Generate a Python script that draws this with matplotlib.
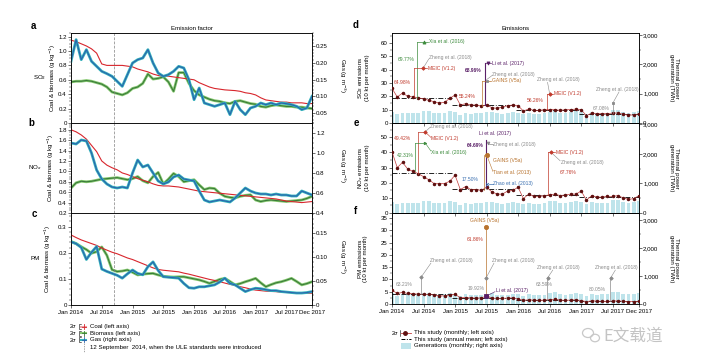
import numpy as np
import matplotlib
matplotlib.use('Agg')
import matplotlib.pyplot as plt
from matplotlib.lines import Line2D
from matplotlib.patches import Rectangle, Ellipse
from matplotlib.ticker import MultipleLocator, FixedLocator, FuncFormatter

plt.rcParams['font.family'] = ['Liberation Sans', 'DejaVu Sans']
plt.rcParams['axes.linewidth'] = 0.5

# ---- data ----
months = np.arange(48)  # Jan 2014 .. Dec 2017
tick_pos = [0, 6, 12, 18, 24, 30, 36, 42, 47]
tick_lab = ['Jan 2014', 'Jul 2014', 'Jan 2015', 'Jul 2015', 'Jan 2016',
            'Jul 2016', 'Jan 2017', 'Jul 2017', 'Dec 2017']
ule_month = 8.4  # 12 September 2014

# emission factors (a: SO2, b: NOx, c: PM)
coal_so2 = [1.15, 1.13, 1.10, 1.07, 1.03, 0.97, 0.82, 0.80, 0.80, 0.80, 0.80, 0.79,
            0.78, 0.75, 0.73, 0.71, 0.68, 0.66, 0.65, 0.65, 0.64, 0.63, 0.62, 0.61,
            0.60, 0.56, 0.53, 0.50, 0.48, 0.47, 0.46, 0.455, 0.45, 0.44, 0.42, 0.41,
            0.39, 0.35, 0.32, 0.31, 0.30, 0.29, 0.29, 0.28, 0.28, 0.28, 0.27, 0.27]
bio_so2 = [0.57, 0.58, 0.58, 0.59, 0.58, 0.56, 0.54, 0.50, 0.43, 0.41, 0.39, 0.42,
           0.48, 0.50, 0.55, 0.68, 0.61, 0.62, 0.64, 0.57, 0.44, 0.70, 0.70, 0.55,
           0.45, 0.39, 0.36, 0.33, 0.31, 0.30, 0.28, 0.27, 0.30, 0.31, 0.29, 0.27,
           0.26, 0.23, 0.22, 0.24, 0.25, 0.24, 0.23, 0.23, 0.22, 0.22, 0.21, 0.20]
gas_so2 = [0.205, 0.27, 0.21, 0.24, 0.205, 0.19, 0.175, 0.168, 0.16, 0.145, 0.13, 0.165,
           0.20, 0.21, 0.215, 0.24, 0.20, 0.17, 0.16, 0.165, 0.175, 0.19, 0.185, 0.15,
           0.09, 0.125, 0.08, 0.075, 0.07, 0.075, 0.08, 0.045, 0.085, 0.06, 0.045, 0.065,
           0.07, 0.08, 0.075, 0.08, 0.075, 0.08, 0.078, 0.075, 0.07, 0.06, 0.065, 0.10]

coal_nox = [1.80, 1.76, 1.70, 1.62, 1.50, 1.38, 1.20, 1.12, 1.07, 1.03, 0.97, 0.94,
            0.90, 0.86, 0.83, 0.80, 0.76, 0.73, 0.72, 0.72, 0.71, 0.70, 0.68, 0.66,
            0.64, 0.62, 0.61, 0.60, 0.59, 0.58, 0.57, 0.56, 0.55, 0.54, 0.53, 0.52,
            0.51, 0.50, 0.49, 0.48, 0.47, 0.45, 0.43, 0.42, 0.41, 0.40, 0.41, 0.42]
bio_nox = [0.68, 0.78, 0.81, 0.80, 0.81, 0.83, 0.85, 0.86, 0.87, 0.88, 0.86, 0.84,
           0.86, 0.90, 0.82, 0.78, 0.90, 0.98, 0.76, 0.85, 0.96, 0.90, 0.80, 0.82,
           0.84, 0.74, 0.65, 0.68, 0.67, 0.58, 0.52, 0.50, 0.49, 0.52, 0.54, 0.55,
           0.45, 0.42, 0.44, 0.45, 0.44, 0.43, 0.42, 0.43, 0.44, 0.45, 0.48, 0.52]
gas_nox = [1.10, 1.09, 1.13, 1.12, 1.00, 0.83, 0.74, 0.69, 0.66, 0.65, 0.66, 0.65,
           0.80, 0.93, 0.86, 0.88, 0.80, 0.72, 0.69, 0.71, 0.76, 0.78, 0.74, 0.73,
           0.72, 0.62, 0.53, 0.51, 0.52, 0.53, 0.52, 0.51, 0.55, 0.60, 0.65, 0.62,
           0.60, 0.59, 0.59, 0.58, 0.59, 0.58, 0.58, 0.57, 0.57, 0.62, 0.60, 0.58]

coal_pm = [0.268, 0.258, 0.249, 0.242, 0.235, 0.228, 0.218, 0.210, 0.202, 0.196, 0.188, 0.180,
           0.174, 0.166, 0.158, 0.150, 0.142, 0.136, 0.133, 0.131, 0.129, 0.127, 0.122, 0.118,
           0.113, 0.108, 0.103, 0.098, 0.094, 0.089, 0.084, 0.079, 0.075, 0.070, 0.066, 0.061,
           0.057, 0.055, 0.053, 0.052, 0.051, 0.049, 0.048, 0.047, 0.046, 0.045, 0.045, 0.045]
bio_pm = [0.243, 0.235, 0.223, 0.212, 0.198, 0.204, 0.222, 0.190, 0.135, 0.128, 0.130, 0.134,
          0.125, 0.115, 0.118, 0.120, 0.121, 0.115, 0.110, 0.108, 0.107, 0.108, 0.108, 0.104,
          0.100, 0.096, 0.090, 0.083, 0.090, 0.098, 0.102, 0.090, 0.077, 0.082, 0.089, 0.095,
          0.102, 0.085, 0.070, 0.078, 0.085, 0.089, 0.095, 0.102, 0.090, 0.077, 0.082, 0.089]
gas_pm = [0.132, 0.128, 0.120, 0.095, 0.110, 0.122, 0.075, 0.070, 0.066, 0.062, 0.056, 0.065,
          0.073, 0.066, 0.063, 0.080, 0.090, 0.072, 0.059, 0.058, 0.057, 0.056, 0.045, 0.036,
          0.035, 0.038, 0.038, 0.040, 0.042, 0.048, 0.056, 0.045, 0.042, 0.035, 0.028, 0.032,
          0.035, 0.034, 0.032, 0.030, 0.030, 0.028, 0.027, 0.026, 0.025, 0.025, 0.026, 0.028]

# emissions, 10 kt per month (d: SO2, e: NOx, f: PM)
so2 = [26, 19.5, 22.5, 20, 19.5, 19, 18, 17, 16, 15, 15.5, 18.5,
       21, 13.5, 14.5, 13.5, 13.5, 13, 13.5, 11.5, 11, 12, 13, 13.5,
       13, 9, 10.5, 9.5, 9.5, 10, 10, 10, 9.5, 10, 10, 10.5,
       10, 5.5, 7.5, 7, 7, 7, 7.5, 7.5, 6.5, 6, 6, 7]
nox = [40.5, 30, 33.5, 29, 27.5, 26, 24, 22, 19.5, 19.5, 19.5, 21,
       25, 15.5, 17.5, 15.5, 15.5, 15, 17, 14, 12.5, 12.5, 14.5, 15,
       17, 9.5, 12.5, 11, 11, 11.5, 12, 12.5, 11.5, 12, 12.5, 12.5,
       14.5, 8.5, 11.5, 10.5, 10.5, 11, 11, 11.5, 10, 9, 9.5, 11.5]
pm = [5.6, 4.3, 4.7, 4.3, 4.2, 4.0, 4.0, 3.9, 3.7, 3.3, 3.3, 3.7,
      3.9, 2.6, 2.6, 2.5, 2.4, 2.5, 3.2, 2.4, 2.3, 2.3, 2.4, 2.5,
      2.1, 1.5, 1.7, 1.6, 1.5, 1.6, 1.8, 1.9, 1.6, 1.5, 1.6, 1.7,
      1.4, 1.0, 1.3, 1.2, 1.1, 1.1, 1.2, 1.3, 1.1, 1.0, 1.0, 1.1]
so2_annual = [18.9, 13.6, 10.1, 7.0]
nox_annual = [26.5, 15.8, 12.2, 10.8]
pm_annual = [4.0, 2.6, 1.65, 1.15]

# thermal power generation, TWh per month
generation = [385, 290, 340, 325, 335, 340, 400, 395, 350, 335, 345, 395,
              365, 285, 345, 320, 325, 330, 365, 380, 335, 310, 330, 370,
              355, 290, 345, 315, 320, 330, 390, 415, 355, 335, 360, 400,
              370, 300, 360, 330, 340, 355, 430, 440, 370, 350, 370, 410]

# ---- figure ----
W, H = 701, 362
fig = plt.figure(figsize=(W / 100, H / 100), dpi=100)

FS = 4.4     # tick / label text
AFS = 3.6    # annotation text


def box(x0, y0, x1, y1):
    return [x0 / W, 1 - y1 / H, (x1 - x0) / W, (y1 - y0) / H]


def ftext(x, y, s, **kw):
    fig.text(x / W, 1 - y / H, s, **kw)


def fline(xs, ys, **kw):
    fig.add_artist(Line2D([x / W for x in xs], [1 - y / H for y in ys],
                          transform=fig.transFigure, **kw))


def style(ax, bottom_labels):
    ax.set_xlim(0, 47)
    ax.xaxis.set_major_locator(FixedLocator(tick_pos))
    ax.set_xticklabels(tick_lab)
    ax.tick_params(axis='x', labelbottom=bottom_labels, labelsize=FS, length=2,
                   width=0.4, pad=1.5)
    ax.tick_params(axis='y', which='major', labelsize=FS, length=2, width=0.4, pad=1)
    ax.tick_params(axis='y', which='minor', length=1.1, width=0.3)


def dec(n):
    return FuncFormatter(lambda v, p: '0' if abs(v) < 1e-9 else f'{v:.{n}f}')


def ef_panel(b, coal, bio, gas, ylim, ymaj, ymin, y2lim, y2maj, y2min, n1, n2,
             species, sp_x, lab_x, bottom=False):
    ax = fig.add_axes(box(*b))
    ax2 = ax.twinx()
    ax.plot(months, bio, color='#86c96f', lw=2.0, zorder=2)
    ax.plot(months, bio, color='#3a7b3a', lw=0.8, zorder=2)
    ax.plot(months, coal, color='#d8262d', lw=0.8, zorder=3)
    ax2.plot(months, gas, color='#33b3bb', lw=2.0)
    ax2.plot(months, gas, color='#2b62ae', lw=0.8)
    ax.axvline(ule_month, color='#808080', lw=0.5, ls=(0, (4, 2)))
    ax.set_ylim(ylim)
    ax2.set_ylim(y2lim)
    ax.yaxis.set_major_locator(MultipleLocator(ymaj))
    ax.yaxis.set_minor_locator(MultipleLocator(ymin))
    ax.yaxis.set_major_formatter(dec(n1))
    ax2.yaxis.set_major_locator(MultipleLocator(y2maj))
    ax2.yaxis.set_minor_locator(MultipleLocator(y2min))
    ax2.yaxis.set_major_formatter(dec(n2))
    style(ax, bottom)
    style(ax2, bottom)
    yc = (b[1] + b[3]) / 2
    ftext(lab_x, yc, 'Coal & biomass (g kg$^{-1}$)', fontsize=FS, rotation=90,
          ha='center', va='center')
    ftext(342, yc - 2, 'Gas (g m$^{-3}$)', fontsize=FS, rotation=270,
          ha='center', va='center')
    ftext(sp_x, yc, species, fontsize=FS, ha='center', va='center')
    return ax


def em_panel(b, monthly, annual, ylim, ymaj, ymin, y2lim, label, bottom=False):
    ax = fig.add_axes(box(*b))
    ax2 = ax.twinx()
    ax2.bar(months, generation, width=0.72, color='#bfe4eb', lw=0)
    ax.set_zorder(ax2.get_zorder() + 1)
    ax.patch.set_visible(False)
    ax.plot(months, monthly, color='#c23b3b', lw=0.5, marker='o', ms=1.5,
            mfc='#5e1010', mec='#5e1010', zorder=4)
    for k, v in enumerate(annual):
        ax.plot([max(12 * k - 0.5, 0), min(12 * k + 11.5, 47)], [v, v],
                color='black', lw=0.6, ls=(0, (6, 2, 1, 2)), zorder=3)
    ax.set_ylim(ylim)
    ax2.set_ylim(y2lim)
    ax.yaxis.set_major_locator(MultipleLocator(ymaj))
    ax.yaxis.set_minor_locator(MultipleLocator(ymin))
    ax2.yaxis.set_major_locator(MultipleLocator(1000))
    ax2.yaxis.set_minor_locator(MultipleLocator(500))
    ax2.yaxis.set_major_formatter(FuncFormatter(lambda v, p: f'{int(v):,}'))
    style(ax, bottom)
    style(ax2, bottom)
    yc = (b[1] + b[3]) / 2
    ftext(363, yc, label, fontsize=FS, rotation=90, ha='center', va='center',
          linespacing=1.0, multialignment='center')
    ftext(674, yc, 'Thermal power\ngeneration (TWh)', fontsize=FS, rotation=270,
          ha='center', va='center', linespacing=1.0, multialignment='center')
    return ax


# ---- annotation helpers (data coordinates of the emission panels) ----
GREEN, RED, GREY = '#3d8b3d', '#c0392b', '#8a8a8a'
PURPLE, ORANGE, BLUE = '#5a2067', '#b8732e', '#3a6fb0'


def stem(ax, x, y0, y1, c, lw=0.5):
    ax.plot([x, x], [y0, y1], color=c, lw=lw, zorder=5)


def seg(ax, x0, x1, y, c):
    ax.plot([x0, x1], [y, y], color=c, lw=0.5, zorder=5)


def mark(ax, x, y, m, c, ms=2.2):
    ax.plot([x], [y], marker=m, color=c, ms=ms, mew=0.6, zorder=6)


def note(ax, x, y, s, c, **kw):
    ax.text(x, y, s, color=c, fontsize=AFS, va='center', zorder=7, **kw)


def lead(ax, x0, y0, x1, y1, c=GREY):
    ax.plot([x0, x1], [y0, y1], color=c, lw=0.4, zorder=5)


# ---- left column: emission factors ----
ef_panel((71, 33, 312, 123), coal_so2, bio_so2, gas_so2, (0, 1.25), 0.2, 0.05,
         (0.02, 0.29), 0.05, 0.01, 1, 2, 'SO$_2$', 40, 53)
ef_panel((71, 123, 312, 213), coal_nox, bio_nox, gas_nox, (0.2, 1.93), 0.2, 0.05,
         (0.4, 1.3), 0.2, 0.05, 1, 1, 'NO$_x$', 35, 51)
ef_panel((71, 213, 312, 305), coal_pm, bio_pm, gas_pm, (0, 0.352), 0.1, 0.02,
         (0, 0.192), 0.05, 0.01, 1, 2, 'PM', 35, 48, bottom=True)

# ---- right column: emissions ----
axd = em_panel((392, 33, 639, 123), so2, so2_annual, (0, 67.5), 10, 5, (0, 3070),
               'SO$_2$ emissions\n(10 kt per month)')
axe = em_panel((392, 123, 639, 213), nox, nox_annual, (0, 59.5), 10, 5, (0, 3050),
               'NO$_x$ emissions\n(10 kt per month)')
axf = em_panel((392, 213, 639, 304), pm, pm_annual, (0, 37), 5, 2.5, (0, 3250),
               'PM emissions\n(10 kt per month)', bottom=True)

# d: SO2
stem(axd, 4.7, so2[5], 61, GREEN); seg(axd, 4.7, 6.8, 61, GREEN)
mark(axd, 6.0, 61, '^', GREEN); note(axd, 7.0, 61, 'Xia et al. (2016)', GREEN)
note(axd, 1.0, 47.8, '69.77%', GREEN)
stem(axd, 4.1, so2[4], 41, RED); seg(axd, 4.1, 6.6, 41, RED)
mark(axd, 5.9, 41, 'D', RED, 1.8); note(axd, 6.8, 41, 'MEIC (V1.2)', RED)
lead(axd, 5.9, 41, 7.0, 48.0); note(axd, 7.1, 49.5, 'Zheng et al. (2018)', GREY)
note(axd, 0.3, 30.0, '64.98%', RED)
stem(axd, 17.7, so2[18], 44.8, PURPLE, 0.8); seg(axd, 17.7, 18.8, 44.8, PURPLE)
mark(axd, 18.3, 44.8, 'v', PURPLE); note(axd, 19.0, 44.8, 'Li et al. (2017)', PURPLE)
note(axd, 13.9, 39.3, '68.96%', PURPLE, fontweight='bold')
stem(axd, 17.1, so2[17], 31.8, ORANGE); seg(axd, 17.1, 18.8, 31.8, ORANGE)
mark(axd, 18.0, 31.8, 's', GREY, 2.0); note(axd, 19.0, 31.8, 'GAINS (V5a)', ORANGE)
lead(axd, 18.0, 32.5, 19.0, 35.5); note(axd, 19.1, 36.6, 'Zheng et al. (2018)', GREY)
note(axd, 12.8, 19.6, '55.24%', RED)
stem(axd, 29.4, so2[29], 21.8, RED); seg(axd, 29.4, 30.7, 21.8, RED)
mark(axd, 30.0, 21.8, 'D', RED, 1.8); note(axd, 30.9, 21.8, 'MEIC (V1.2)', RED)
lead(axd, 30.0, 21.8, 29.6, 30.5); note(axd, 27.6, 32.3, 'Zheng et al. (2018)', GREY)
note(axd, 25.6, 16.6, '56.26%', RED)
stem(axd, 42.0, so2[42], 14.8, GREY); mark(axd, 42.0, 14.8, 's', GREY, 2.0)
lead(axd, 42.0, 14.8, 43.2, 23.3); note(axd, 38.8, 25.0, 'Zheng et al. (2018)', GREY)
note(axd, 38.2, 10.8, '67.08%', GREY)

# e: NOx
stem(axe, 4.9, nox[5], 53.6, RED); seg(axe, 4.9, 6.3, 53.6, RED)
mark(axe, 6.3, 53.6, 'D', RED, 1.8)
lead(axe, 6.3, 53.6, 7.4, 50.0, RED); note(axe, 7.5, 49.2, 'MEIC (V1.2)', RED)
lead(axe, 6.3, 53.6, 7.2, 56.5); note(axe, 7.3, 57.4, 'Zheng et al. (2018)', GREY)
stem(axe, 4.4, nox[4], 46.4, GREEN); seg(axe, 4.4, 6.3, 46.4, GREEN)
mark(axe, 6.3, 46.4, '>', GREEN, 1.8)
lead(axe, 6.3, 46.4, 7.4, 41.0, GREEN); note(axe, 7.5, 40.0, 'Xia et al. (2016)', GREEN)
note(axe, 0.3, 49.5, '49.42%', RED)
note(axe, 0.9, 37.8, '42.31%', GREEN)
stem(axe, 17.8, nox[18], 48.2, PURPLE, 0.8)
note(axe, 16.5, 52.5, 'Li et al. (2017)', PURPLE)
note(axe, 17.5, 44.4, '64.69%', PURPLE, fontweight='bold', ha='right')
mark(axe, 18.2, 46.0, 'v', GREY, 2.0); seg(axe, 18.5, 19.2, 45.5, GREY)
note(axe, 19.3, 45.5, 'Zheng et al. (2018)', GREY)
stem(axe, 17.5, nox[17], 38.5, ORANGE)
mark(axe, 18.0, 38.5, 'o', ORANGE, 3.0)
note(axe, 19.3, 34.7, 'GAINS (V5a)', ORANGE)
lead(axe, 18.0, 38.5, 19.2, 27.5, ORANGE)
note(axe, 19.3, 26.6, 'Tian et al. (2013)', ORANGE)
note(axe, 13.3, 22.1, '17.50%', BLUE)
mark(axe, 18.1, 19.4, 'x', BLUE, 2.0); seg(axe, 18.5, 19.2, 19.4, BLUE)
note(axe, 19.3, 19.4, 'Zhao et al. (2013)', BLUE)
stem(axe, 29.6, nox[30], 40.0, RED); seg(axe, 29.6, 31.1, 40.0, RED)
mark(axe, 30.3, 40.0, 'D', RED, 1.8); note(axe, 31.3, 40.0, 'MEIC (V1.2)', RED)
lead(axe, 30.3, 40.0, 32.0, 34.5); note(axe, 32.2, 33.3, 'Zheng et al. (2018)', GREY)
note(axe, 32.0, 26.6, '67.76%', RED)

# f: PM
stem(axf, 17.9, pm[18], 31.4, ORANGE)
mark(axf, 17.9, 31.4, 'o', ORANGE, 3.0)
note(axf, 17.7, 33.8, 'GAINS (V5a)', ORANGE, ha='center')
note(axf, 14.3, 26.3, '61.86%', RED)
stem(axf, 5.6, pm[6], 11.1, GREY); mark(axf, 5.6, 11.1, 'D', GREY, 1.8)
lead(axf, 5.6, 11.1, 7.4, 16.6); note(axf, 7.3, 17.6, 'Zheng et al. (2018)', GREY)
note(axf, 0.7, 8.1, '63.21%', GREY)
mark(axf, 17.9, 10.6, 'D', GREY, 1.8)
lead(axf, 17.9, 10.6, 19.4, 16.6); note(axf, 19.1, 17.6, 'Zheng et al. (2018)', GREY)
note(axf, 14.3, 6.2, '19.92%', GREY)
mark(axf, 17.9, 3.2, 's', PURPLE, 3.2)
lead(axf, 18.3, 3.6, 19.6, 5.0, PURPLE); note(axf, 19.8, 5.3, 'Li et al. (2017)', PURPLE)
stem(axf, 29.4, pm[29], 10.6, GREY); mark(axf, 29.6, 10.6, 'D', GREY, 1.8)
lead(axf, 29.6, 10.6, 30.6, 13.8); note(axf, 27.6, 14.9, 'Zheng et al. (2018)', GREY)
note(axf, 27.4, 8.1, '63.59%', GREY)
stem(axf, 41.5, pm[41], 10.6, GREY); mark(axf, 41.6, 10.6, 'D', GREY, 1.8)
lead(axf, 41.6, 10.6, 42.5, 13.8); note(axf, 38.6, 14.9, 'Zheng et al. (2018)', GREY)
note(axf, 37.4, 5.7, '80.05%', GREY)

# ---- titles and panel letters ----
ftext(191.5, 29, 'Emission factor', fontsize=FS, ha='center', va='center')
ftext(515.5, 29, 'Emissions', fontsize=FS, ha='center', va='center')
for s, x, y in [('a', 33, 26), ('b', 31, 123), ('c', 34, 214),
                ('d', 356, 25), ('e', 356, 123), ('f', 356, 211)]:
    ftext(x, y, s, fontsize=7, fontweight='bold', ha='center', va='center')

# ---- left legend ----
leg_left = [('Coal (left axis)', '#d8262d', '#e9a3a6', 326.5),
            ('Biomass (left axis)', '#3a7b3a', '#86c96f', 333.2),
            ('Gas (right axis)', '#2b62ae', '#33b3bb', 339.9)]
for lab, c, c2, y in leg_left:
    ftext(73, y, '2$\\sigma$', fontsize=3.8, ha='center', va='center')
    fline([80.5, 79, 79, 80.5], [y - 2.5, y - 2.5, y + 2.5, y + 2.5], color='black', lw=0.4)
    fline([81, 86], [y, y], color=c2, lw=1.5)
    fline([83.5, 83.5], [y - 2.5, y + 2.5], color=c, lw=0.6)
    fline([81.5, 85.5], [y, y], color=c, lw=0.6)
    ftext(90, y, lab, fontsize=FS, va='center')
fline([83.5, 83.5], [343, 352], color='#808080', lw=0.5, ls=(0, (2, 1.5)))
ftext(90, 347.5, '12 September  2014, when the ULE standards were introduced',
      fontsize=FS, va='center')

# ---- right legend ----
ftext(395, 332.7, '2$\\sigma$', fontsize=3.8, ha='center', va='center')
fline([399.5, 399.5], [330, 335.5], color='black', lw=0.4)
fline([401, 411], [332.7, 332.7], color='#c23b3b', lw=0.6)
fline([404.5], [332.7], color='#5e1010', marker='o', ms=2.5, lw=0)
ftext(414, 332.7, 'This study (monthly; left axis)', fontsize=FS, va='center')
fline([401, 411], [339.3, 339.3], color='black', lw=0.7, ls=(0, (4, 1.5, 1, 1.5)))
ftext(414, 339.3, 'This study (annual mean; left axis)', fontsize=FS, va='center')
fig.add_artist(Rectangle((401 / W, 1 - 348.5 / H), 10 / W, 5.5 / H,
                         transform=fig.transFigure, color='#bfe4eb', lw=0))
ftext(414, 345.9, 'Generations (monthly; right axis)', fontsize=FS, va='center')

# ---- watermark ----
fig.add_artist(Ellipse((588 / W, 1 - 333 / H), 11 / W, 9 / H, transform=fig.transFigure,
                       fill=False, ec='#c8c8c8', lw=0.9))
fig.add_artist(Ellipse((595 / W, 1 - 338 / H), 9 / W, 7.5 / H, transform=fig.transFigure,
                       fill=False, ec='#c8c8c8', lw=0.9))
fig.text(603 / W, 1 - 336 / H, 'E文载道', fontsize=12, color='#c4c4c4', va='center',
         family=['Noto Sans CJK SC', 'DejaVu Sans'])

fig.savefig('out.png', dpi=100)
